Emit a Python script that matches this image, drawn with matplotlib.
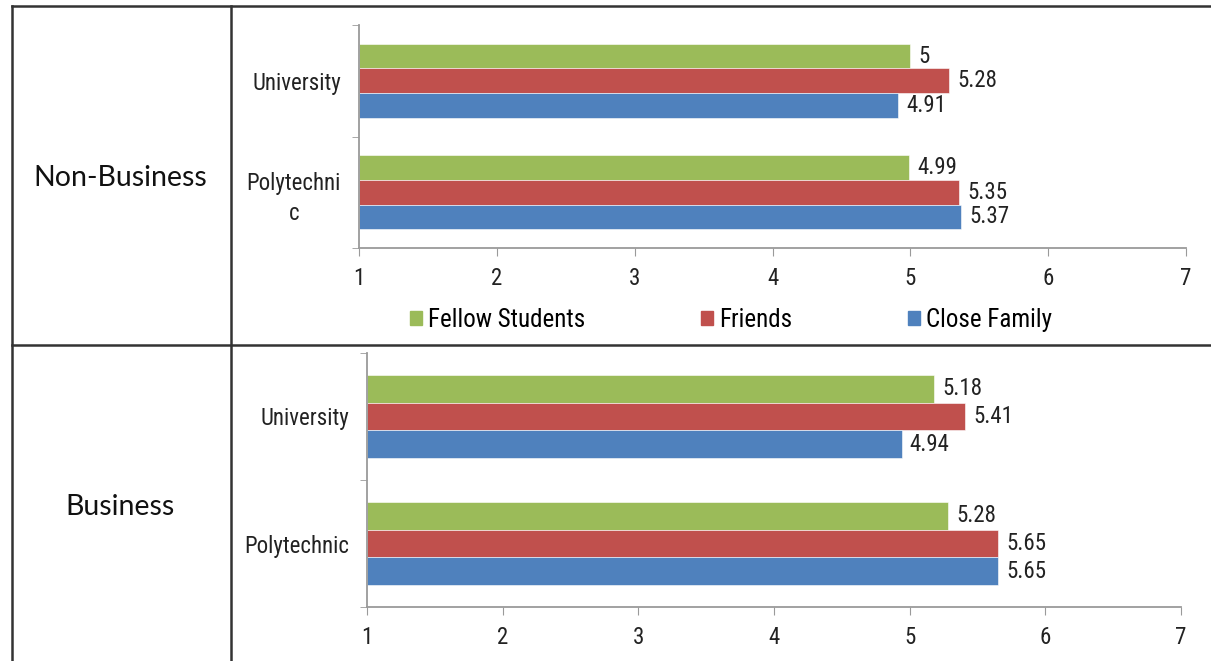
import numpy as np
import matplotlib
matplotlib.use('Agg')
import matplotlib.pyplot as plt
from matplotlib.lines import Line2D
from matplotlib.patches import Patch

# data
series = ['Fellow Students', 'Friends', 'Close Family']
colors = ['#9BBB59', '#C0504D', '#4F81BD']
cats_top = ['Polytechni\nc', 'University']
cats_bot = ['Polytechnic', 'University']
# values listed as [Polytechnic, University]
nonbiz_fellow = [4.99, 5.00]
nonbiz_friends = [5.35, 5.28]
nonbiz_family = [5.37, 4.91]
biz_fellow = [5.28, 5.18]
biz_friends = [5.65, 5.41]
biz_family = [5.65, 4.94]
val_fmt = {5.00: '5'}

plt.rcParams['font.family'] = ['Liberation Sans Narrow', 'Roboto Condensed',
                               'DejaVu Sans']
plt.rcParams['font.stretch'] = 'condensed'
axis_grey = '#9a9a9a'

W, H = 1211, 661
fig = plt.figure(figsize=(W / 100, H / 100), dpi=100)


def px_axes(x0, x1, y0, y1):
    return fig.add_axes([x0 / W, 1 - y1 / H, (x1 - x0) / W, (y1 - y0) / H])


def draw_panel(ax, cats, fellow, friends, family):
    y = np.arange(len(cats))
    h = 0.22
    vals = [fellow, friends, family]
    offs = [h, 0, -h]
    for v, o, c in zip(vals, offs, colors):
        bars = ax.barh(y + o, np.array(v) - 1, height=h, left=1, color=c,
                       edgecolor='white', linewidth=0.4)
        labels = [val_fmt.get(val, '%.2f' % val) for val in v]
        ax.bar_label(bars, labels=labels, padding=6, fontsize=16.5,
                     color='#222222')
    ax.set_xlim(1, 7)
    ax.set_xticks(range(1, 8))
    ax.set_ylim(-0.5, 1.5)
    ax.set_yticks(y)
    ax.set_yticklabels(cats, fontsize=16.5, color='#222222')
    ax.set_yticks([-0.5, 0.5, 1.5], minor=True)
    ax.tick_params(axis='y', which='major', length=0, pad=13)
    ax.tick_params(axis='y', which='minor', length=5, color=axis_grey)
    ax.tick_params(axis='x', length=6, color=axis_grey, labelsize=16.5,
                   labelcolor='#222222', pad=8)
    for s in ['top', 'right']:
        ax.spines[s].set_visible(False)
    for s in ['left', 'bottom']:
        ax.spines[s].set_color(axis_grey)
        ax.spines[s].set_linewidth(1.3)


ax1 = px_axes(359, 1186, 25, 248)
draw_panel(ax1, cats_top, nonbiz_fellow, nonbiz_friends, nonbiz_family)
for t in ax1.get_yticklabels():
    t.set_multialignment('center')
    t.set_linespacing(1.4)

ax2 = px_axes(367, 1181, 353, 607)
draw_panel(ax2, cats_bot, biz_fellow, biz_friends, biz_family)

handles = [Patch(color=c) for c in colors]
fig.legend(handles, series, loc='center', bbox_to_anchor=(731 / W, 1 - 320 / H),
           ncol=3, frameon=False, fontsize=18, handlelength=0.5,
           handleheight=0.5, handletextpad=0.25, columnspacing=4.6)

# table frame
lc = '#333333'
lw = 1.8
frame = [((12, 1211), (6, 6)), ((12, 12), (6, 661)), ((231, 231), (6, 661)),
         ((12, 1211), (345, 345))]
for xs, ys in frame:
    fig.add_artist(Line2D([x / W for x in xs], [1 - yv / H for yv in ys],
                          color=lc, linewidth=lw))

fig.text(120 / W, 1 - 178 / H, 'Non-Business', ha='center', va='center',
         fontsize=20.5, family=['Lato', 'DejaVu Sans'], stretch='normal',
         color='#111111')
fig.text(120 / W, 1 - 507 / H, 'Business', ha='center', va='center',
         fontsize=20.5, family=['Lato', 'DejaVu Sans'], stretch='normal',
         color='#111111')

fig.savefig('out.png', dpi=100, facecolor='white')
